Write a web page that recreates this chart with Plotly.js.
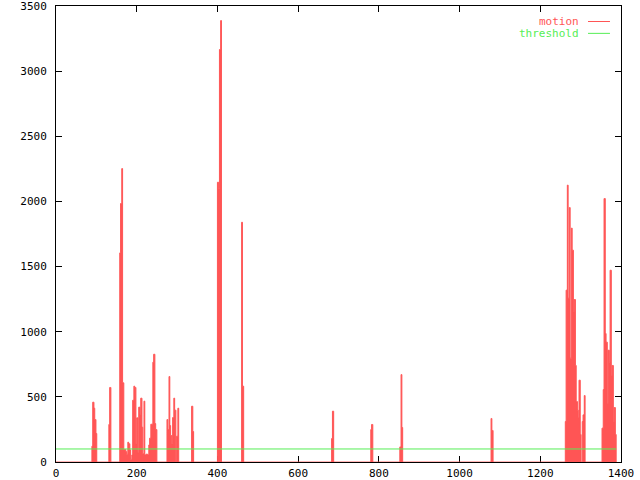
<!DOCTYPE html>
<html><head><meta charset="utf-8">
<script src="https://cdn.plot.ly/plotly-3.0.1.min.js"></script>
<style>html,body{margin:0;padding:0;background:#fff}#chart{width:640px;height:480px}</style>
</head><body><div id="chart"></div>
<script>
// ---- data ----
const lastFrame = 1388;          // frames 0..1388
const thresholdLevel = 100;

// start frame of each non-zero burst of motion
const segmentStarts = [89, 131, 158, 275, 336, 400, 460, 683, 780, 852, 1078, 1262, 1353];

const segA = [121,121,459,459,459,413,413,326,326,326,219,219];
const segB = [288,288,572,572,572];
const segC = [1605,1605, 1984,1984,1984, 2252,2252, 608,608,608, 96,96, 96,96,96, 80,80, 60,60,60,
              152,152, 140,140,140, 92,92, 20,20,20, 54,54, 474,474,474, 582,582, 572,572,572,
              140,140, 339,339,339, 72,72, 421,421,421, 365,365, 490,490,490, 267,267, 64,64,64,
              467,467, 54,54,54, 60,60, 60,60, 55,55,55, 131,131, 183,183,183, 290,290, 290,290,290,
              766,766, 827,827,827, 295,295, 249,249,249];
const segD = [326,326, 249,249,249, 656,656, 280,280, 203,203,203, 140,140, 341,341,341, 490,490,
              398,398,398, 0,0, 198,198,198, 413,413];
const segE = [428,428,428,234,234];
const segF = [2147,2147,2147,2099,2099,3166,3166,3166,3388,3388];
const segG = [1840,1840,582,582,582];
const segH = [180,180,390,390,390];
const segI = [249,249,288,288,288];
const segJ = [116,116,116,671,671,265,265];
const segK = [334,334,242,242,242];
const segL = [311,311, 1319,1319,1319, 2125,2125, 1257,1257,1257, 1953,1953, 797,797,797,
              1795,1795, 1626,1626,1626, 1155,1155, 1247,1247,1247, 741,741, 464,464,464,
              398,398, 341,341, 628,628,628, 211,211, 0,0,0, 311,311, 362,362,362, 510,510];
const segM = [260,260,260, 556,556, 2022,2022,2022, 986,986, 920,920,920, 449,449,
              858,858,858, 766,766, 1472,1472,1472, 664,664, 741,741,741, 311,311,
              418,418,418, 211,211];
const motionSegments = [segA,segB,segC,segD,segE,segF,segG,segH,segI,segJ,segK,segL,segM];

// ---- build full series ----
const frames = [], motion = [];
for (let f = 0; f <= lastFrame; f++) { frames.push(f); motion.push(0); }
segmentStarts.forEach((s, i) => motionSegments[i].forEach((v, j) => { motion[s + j] = v; }));

const RED = '#ff5555', GREEN = '#55ee55';
const FONT = {family: 'DejaVu Sans Mono, monospace', size: 11, color: '#000'};

const traces = [
  {x: frames, y: motion, type: 'scatter', mode: 'lines', name: 'motion',
   line: {color: RED, width: 1, shape: 'hv'}, fill: 'tozeroy', fillcolor: RED, hoverinfo: 'skip'},
  {x: [0, lastFrame], y: [thresholdLevel, thresholdLevel], type: 'scatter', mode: 'lines',
   name: 'threshold', line: {color: GREEN, width: 1}, hoverinfo: 'skip'}
];

const axisCommon = {
  ticks: 'inside', ticklen: 6, tickwidth: 1, tickcolor: '#000',
  showline: true, linecolor: '#000', linewidth: 1, mirror: 'allticks',
  showgrid: false, zeroline: false, tickfont: FONT, automargin: false, fixedrange: true,
  ticklabeloverflow: 'allow'
};

const layout = {
  width: 640, height: 480,
  margin: {l: 56, r: 19, t: 6, b: 18, pad: 0},
  paper_bgcolor: '#fff', plot_bgcolor: '#fff',
  showlegend: false,
  xaxis: Object.assign({}, axisCommon, {range: [0, 1400], tick0: 0, dtick: 200, ticklabelstandoff: 1, layer: 'below traces'}),
  yaxis: Object.assign({}, axisCommon, {range: [0, 3500], tick0: 0, dtick: 500, ticklabelstandoff: 6, layer: 'below traces'}),
  annotations: [
    {text: 'motion', xref: 'paper', yref: 'paper', x: 0.927, y: 0.966, xanchor: 'right', yanchor: 'middle',
     height: 11, valign: 'middle',
     showarrow: false, font: {family: FONT.family, size: 11, color: RED}, borderpad: 0},
    {text: 'threshold', xref: 'paper', yref: 'paper', x: 0.927, y: 0.940, xanchor: 'right', yanchor: 'middle',
     height: 11, valign: 'middle',
     showarrow: false, font: {family: FONT.family, size: 11, color: GREEN}, borderpad: 0}
  ],
  shapes: [
    {type: 'line', xref: 'paper', yref: 'paper', x0: 0.9416, x1: 0.9805, y0: 0.966, y1: 0.966, line: {color: RED, width: 1}},
    {type: 'line', xref: 'paper', yref: 'paper', x0: 0.9416, x1: 0.9805, y0: 0.940, y1: 0.940, line: {color: GREEN, width: 1}}
  ]
};

Plotly.newPlot('chart', traces, layout, {staticPlot: true, displayModeBar: false});
</script>
</body></html>
